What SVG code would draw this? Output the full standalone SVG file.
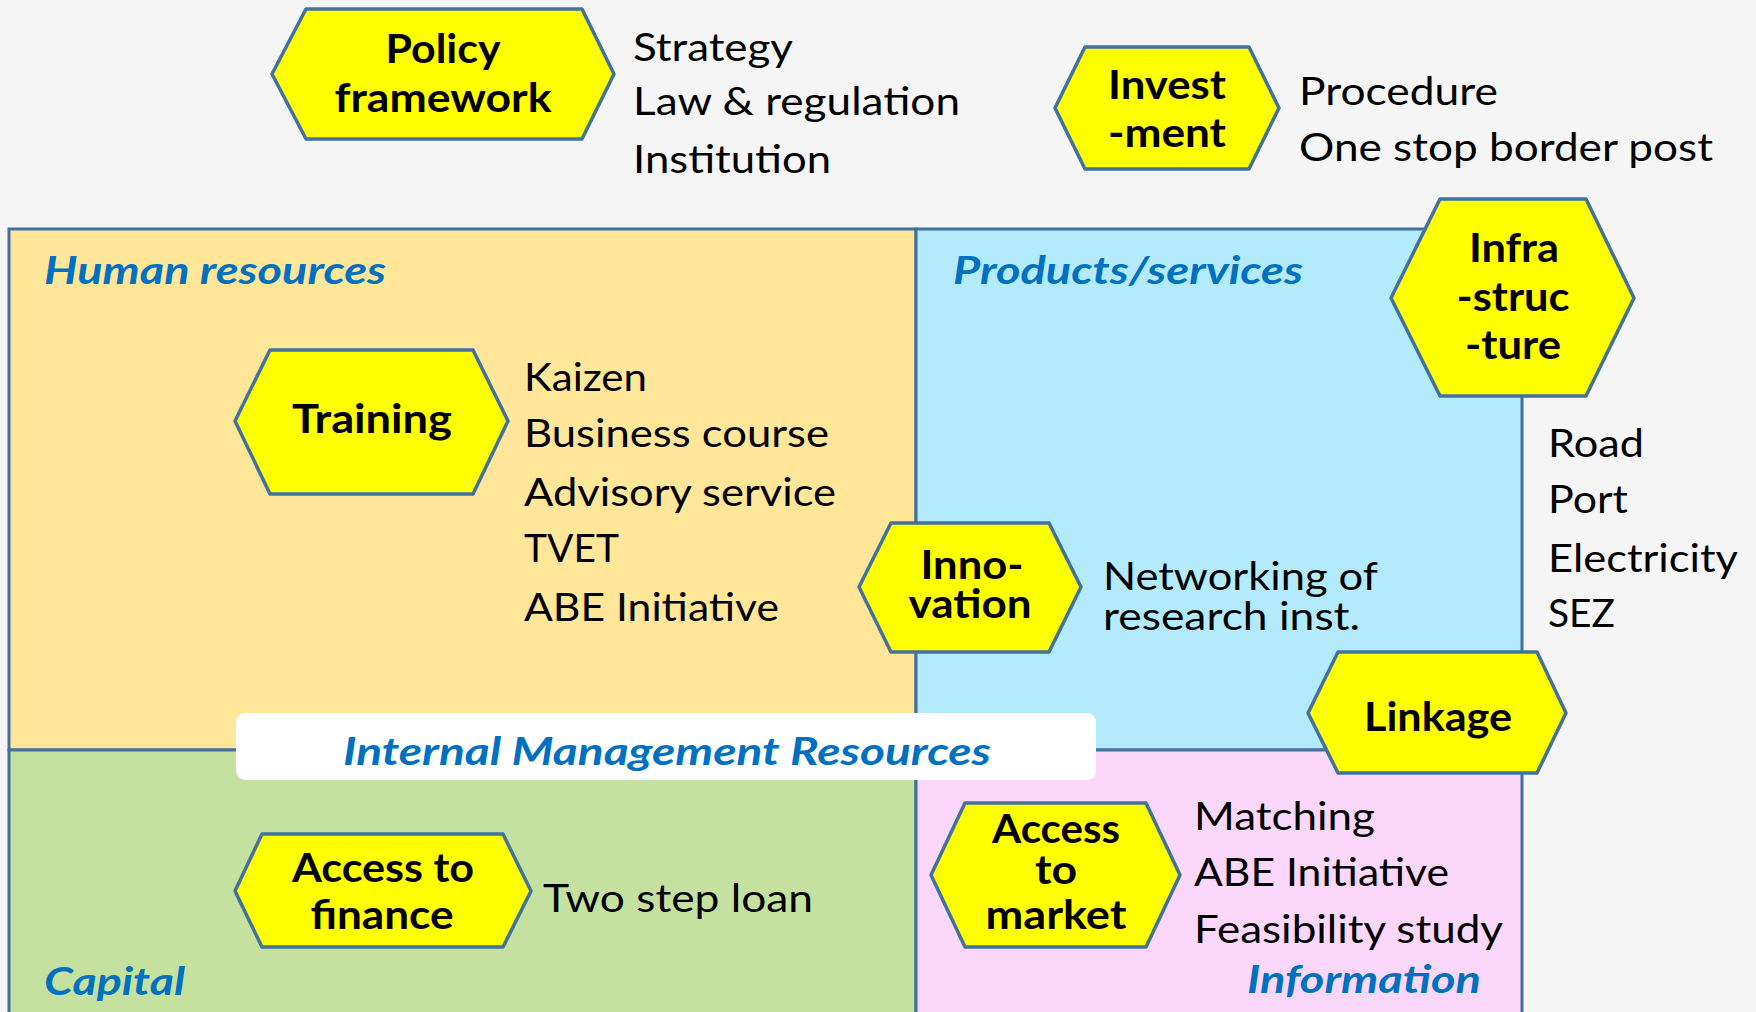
<svg xmlns="http://www.w3.org/2000/svg" width="1756" height="1012" viewBox="0 0 1756 1012">
<style>
.reg{stroke:#41719C;stroke-width:3}
.hex{fill:#FFFF00;stroke:#41719C;stroke-width:3.5;stroke-linejoin:round}
.hl{font-family:Lato,"Liberation Sans",sans-serif;font-weight:bold;font-size:40px;fill:#000;text-anchor:middle}
.tx{font-family:Lato,"Liberation Sans",sans-serif;font-size:39px;fill:#000}
.cat{font-family:Lato,"Liberation Sans",sans-serif;font-weight:bold;font-style:italic;font-size:39px;fill:#0070C0}
</style>
<rect x="0" y="0" width="1756" height="1012" fill="#F5F5F5"/>
<g id="regions">
  <rect id="human-resources" class="reg" x="9" y="229" width="907" height="521" fill="#FFE699"/>
  <rect id="products-services" class="reg" x="916" y="229" width="606" height="521" fill="#B3EBFD"/>
  <rect id="capital" class="reg" x="9" y="750" width="907" height="290" fill="#C5E1A0"/>
  <rect id="information" class="reg" x="916" y="750" width="606" height="290" fill="#FCD7FC"/>
  <text class="cat" x="44" y="284" textLength="342" lengthAdjust="spacingAndGlyphs">Human resources</text>
  <text class="cat" x="953" y="284" textLength="350" lengthAdjust="spacingAndGlyphs">Products/services</text>
  <text class="cat" x="44" y="995" textLength="141" lengthAdjust="spacingAndGlyphs">Capital</text>
  <text class="cat" x="1247" y="993" textLength="234" lengthAdjust="spacingAndGlyphs">Information</text>
</g>
<g id="internal-management">
  <rect x="236" y="713" width="860" height="67" rx="9" fill="#FFFFFF"/>
  <text class="cat" x="343" y="765" font-size="40" textLength="648" lengthAdjust="spacingAndGlyphs">Internal Management Resources</text>
</g>
<g id="connectors"></g>
<g id="policy">
  <polygon class="hex" points="272,74 306,9 582,9 614,74 582,139 306,139"/>
  <text class="hl" x="443" y="63" textLength="115" lengthAdjust="spacingAndGlyphs">Policy</text>
  <text class="hl" x="443" y="112" textLength="217" lengthAdjust="spacingAndGlyphs">framework</text>
  <text class="tx" x="633" y="61" textLength="160" lengthAdjust="spacingAndGlyphs">Strategy</text>
  <text class="tx" x="633" y="115" textLength="327" lengthAdjust="spacingAndGlyphs">Law &amp; regulation</text>
  <text class="tx" x="633" y="173" textLength="198" lengthAdjust="spacingAndGlyphs">Institution</text>
</g>
<g id="investment">
  <polygon class="hex" points="1055,108 1085,47 1249,47 1279,108 1249,169 1085,169"/>
  <text class="hl" x="1167" y="99" textLength="118" lengthAdjust="spacingAndGlyphs">Invest</text>
  <text class="hl" x="1167" y="147" textLength="118" lengthAdjust="spacingAndGlyphs">-ment</text>
  <text class="tx" x="1299" y="105" textLength="199" lengthAdjust="spacingAndGlyphs">Procedure</text>
  <text class="tx" x="1299" y="161" textLength="414" lengthAdjust="spacingAndGlyphs">One stop border post</text>
</g>
<g id="infrastructure">
  <polygon class="hex" points="1391,298 1440,199 1586,199 1634,298 1586,396 1440,396"/>
  <text class="hl" x="1514" y="262" textLength="90" lengthAdjust="spacingAndGlyphs">Infra</text>
  <text class="hl" x="1513" y="311" textLength="113" lengthAdjust="spacingAndGlyphs">-struc</text>
  <text class="hl" x="1513" y="359" textLength="96" lengthAdjust="spacingAndGlyphs">-ture</text>
  <text class="tx" x="1548" y="457" textLength="96" lengthAdjust="spacingAndGlyphs">Road</text>
  <text class="tx" x="1548" y="513" textLength="80" lengthAdjust="spacingAndGlyphs">Port</text>
  <text class="tx" x="1548" y="572" textLength="190" lengthAdjust="spacingAndGlyphs">Electricity</text>
  <text class="tx" x="1548" y="627" textLength="67" lengthAdjust="spacingAndGlyphs">SEZ</text>
</g>
<g id="training">
  <polygon class="hex" points="235,421 270,350 473,350 508,421 473,494 270,494"/>
  <text class="hl" x="372" y="433" font-size="41" textLength="160" lengthAdjust="spacingAndGlyphs">Training</text>
  <text class="tx" x="524" y="391" textLength="123" lengthAdjust="spacingAndGlyphs">Kaizen</text>
  <text class="tx" x="524" y="447" textLength="305" lengthAdjust="spacingAndGlyphs">Business course</text>
  <text class="tx" x="524" y="506" textLength="312" lengthAdjust="spacingAndGlyphs">Advisory service</text>
  <text class="tx" x="524" y="562" textLength="95" lengthAdjust="spacingAndGlyphs">TVET</text>
  <text class="tx" x="524" y="621" textLength="255" lengthAdjust="spacingAndGlyphs">ABE Initiative</text>
</g>
<g id="innovation">
  <polygon class="hex" points="859,587 891,523 1049,523 1081,587 1049,652 891,652"/>
  <text class="hl" x="972" y="579" textLength="103" lengthAdjust="spacingAndGlyphs">Inno-</text>
  <text class="hl" x="970" y="618" textLength="123" lengthAdjust="spacingAndGlyphs">vation</text>
  <text class="tx" x="1103" y="590" textLength="275" lengthAdjust="spacingAndGlyphs">Networking of</text>
  <text class="tx" x="1103" y="630" textLength="257" lengthAdjust="spacingAndGlyphs">research inst.</text>
</g>
<g id="linkage">
  <polygon class="hex" points="1308,713 1338,652 1537,652 1566,713 1537,773 1338,773"/>
  <text class="hl" x="1438" y="731" textLength="148" lengthAdjust="spacingAndGlyphs">Linkage</text>
</g>
<g id="access-to-finance">
  <polygon class="hex" points="235,891 262,834 503,834 531,891 503,947 262,947"/>
  <text class="hl" x="383" y="882" textLength="182" lengthAdjust="spacingAndGlyphs">Access to</text>
  <text class="hl" x="382" y="929" textLength="143" lengthAdjust="spacingAndGlyphs">finance</text>
  <text class="tx" x="543" y="912" textLength="270" lengthAdjust="spacingAndGlyphs">Two step loan</text>
</g>
<g id="access-to-market">
  <polygon class="hex" points="931,875 965,803 1146,803 1180,875 1146,947 965,947"/>
  <text class="hl" x="1056" y="843" textLength="128" lengthAdjust="spacingAndGlyphs">Access</text>
  <text class="hl" x="1056" y="884" textLength="42" lengthAdjust="spacingAndGlyphs">to</text>
  <text class="hl" x="1056" y="929" textLength="141" lengthAdjust="spacingAndGlyphs">market</text>
  <text class="tx" x="1194" y="830" textLength="181" lengthAdjust="spacingAndGlyphs">Matching</text>
  <text class="tx" x="1194" y="886" textLength="255" lengthAdjust="spacingAndGlyphs">ABE Initiative</text>
  <text class="tx" x="1194" y="943" textLength="309" lengthAdjust="spacingAndGlyphs">Feasibility study</text>
</g>
</svg>
